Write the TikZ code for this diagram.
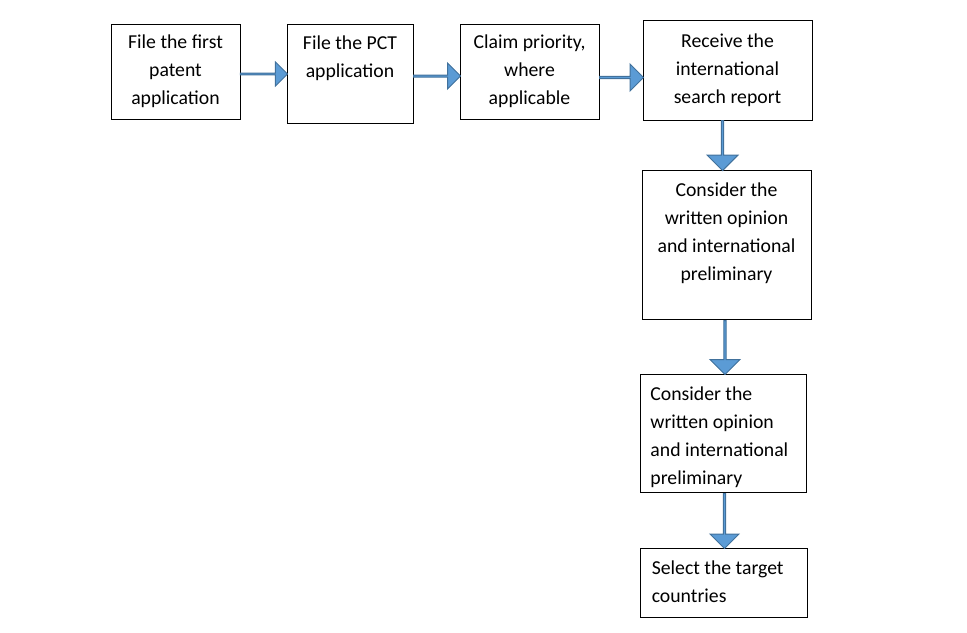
\documentclass[tikz,border=0pt]{standalone}
\usepackage{fontspec}
\setmainfont{Carlito}
\usetikzlibrary{shapes.arrows,positioning}
\definecolor{arrowfill}{HTML}{5B9BD5}
\definecolor{arrowline}{HTML}{41719C}
\tikzset{
  stepbox/.style={draw=black, line width=0.75pt, inner sep=0pt},
  steptext/.style={inner sep=0pt, align=center, font=\fontsize{14.8}{21}\selectfont},
  flow/.style={single arrow, draw=arrowline, fill=arrowfill, line width=0.75pt,
    inner sep=0pt, single arrow head extend=5pt}
}
\begin{document}
\begin{tikzpicture}[x=0.75pt,y=0.75pt,yscale=-1,xscale=1]
\useasboundingbox (0,0) rectangle (967,632);

% boxes
\node[stepbox, minimum width=96.75pt, minimum height=71.25pt] (first) at (175.5,71.5) {};
\node[stepbox, minimum width=94.5pt, minimum height=74.25pt] (pct) at (350,73.5) {};
\node[stepbox, minimum width=104.25pt, minimum height=71.25pt] (priority) at (529.5,71.5) {};
\node[stepbox, minimum width=126.75pt, minimum height=75pt] (search) at (727.5,70) {};
\node[stepbox, minimum width=126.75pt, minimum height=111.75pt] (opinion) at (726.5,244.5) {};
\node[stepbox, minimum width=124.5pt, minimum height=88.5pt] (prelim) at (723,433) {};
\node[stepbox, minimum width=125.25pt, minimum height=51.75pt] (target) at (723.5,582.5) {};

% texts
\node[steptext] (firsttext) at (first.center) {File the first\\patent\\application};
\node[steptext, below=9pt of pct.north] (pcttext) {File the PCT\\application};
\node[steptext] (prioritytext) at (priority.center) {Claim priority,\\where\\applicable};
\node[steptext] (searchtext) at (search.center) {Receive the\\international\\search report};
\node[steptext, below=10pt of opinion.north] (opiniontext) {Consider the\\written opinion\\and international\\preliminary};
\node[steptext, align=left, anchor=north west] (prelimtext) at ([shift={(8pt,10pt)}]prelim.north west) {Consider the\\written opinion\\and international\\preliminary};
\node[steptext, align=left, anchor=north west] (targettext) at ([shift={(9pt,10pt)}]target.north west) {Select the target\\countries};

% block arrows
\node[flow, minimum height=35.25pt, minimum width=18pt, single arrow head extend=4.5pt] (a1) at (263.5,74) {};
\node[flow, minimum height=35.25pt, minimum width=19.5pt, single arrow head extend=4.5pt] (a2) at (436.5,76) {};
\node[flow, minimum height=33pt, minimum width=20.25pt, single arrow head extend=4.5pt] (a3) at (621,77.5) {};
\node[flow, shape border rotate=270, minimum height=37.5pt, minimum width=23.25pt] (a4) at (722.5,145) {};
\node[flow, shape border rotate=270, minimum height=40.5pt, minimum width=22.5pt] (a5) at (725,347) {};
\node[flow, shape border rotate=270, minimum height=41.25pt, minimum width=21.75pt] (a6) at (724.5,520.5) {};

\end{tikzpicture}
\end{document}
